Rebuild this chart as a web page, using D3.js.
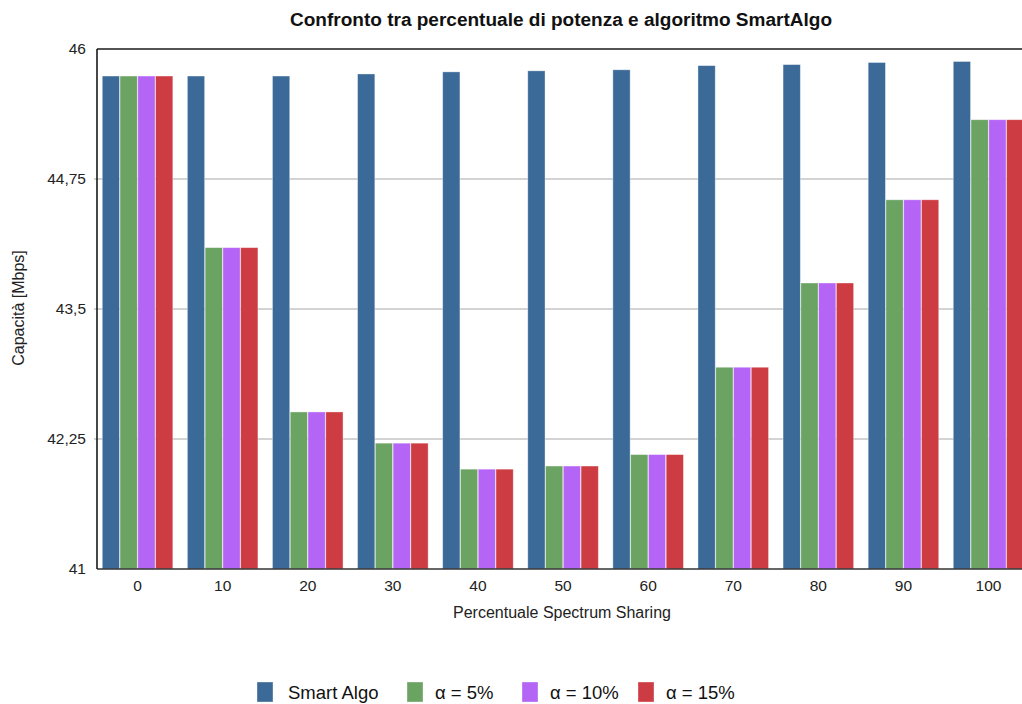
<!DOCTYPE html>
<html>
<head>
<meta charset="utf-8">
<script src="https://cdn.jsdelivr.net/npm/d3@7/dist/d3.min.js"></script>
<style>
  html, body { margin: 0; padding: 0; background: #fff; }
  svg { display: block; font-family: "Liberation Sans", Arial, sans-serif; }
</style>
</head>
<body>
<svg id="chart" width="1022" height="704"></svg>
<script>
const categories = ["0", "10", "20", "30", "40", "50", "60", "70", "80", "90", "100"];
const seriesNames = ["Smart Algo", "α = 5%", "α = 10%", "α = 15%"];
const smartAlgo = [45.74, 45.74, 45.74, 45.76, 45.78, 45.79, 45.80, 45.84, 45.85, 45.87, 45.88];
const alpha5  = [45.74, 44.09, 42.51, 42.21, 41.96, 41.99, 42.10, 42.94, 43.75, 44.55, 45.32];
const alpha10 = [45.74, 44.09, 42.51, 42.21, 41.96, 41.99, 42.10, 42.94, 43.75, 44.55, 45.32];
const alpha15 = [45.74, 44.09, 42.51, 42.21, 41.96, 41.99, 42.10, 42.94, 43.75, 44.55, 45.32];
const yTicks = [41, 42.25, 43.5, 44.75, 46];
const colors = ["#3b6a98", "#6ba363", "#b565f6", "#cd3c42"];

const seriesValues = [smartAlgo, alpha5, alpha10, alpha15];

const svg = d3.select("#chart");
const plotLeft = 97, plotTop = 49, plotBottom = 569, plotRight = 1022;

const y = d3.scaleLinear().domain([41, 46]).range([plotBottom, plotTop]);
const x = d3.scaleBand().domain(categories).range([95, 95 + 11 * 85.1])
  .paddingInner(0.165).paddingOuter(0.0825);
const xs = d3.scaleBand().domain(seriesNames).range([0, x.bandwidth()]);

// gridlines
svg.append("g").selectAll("line").data(yTicks.filter(t => t !== 41 && t !== 46)).join("line")
  .attr("x1", plotLeft - 3).attr("x2", plotRight)
  .attr("y1", d => y(d)).attr("y2", d => y(d))
  .attr("stroke", "#c4c4c4").attr("stroke-width", 1.6);

// bars
const groups = svg.append("g").selectAll("g").data(categories).join("g")
  .attr("transform", d => `translate(${x(d)},0)`);
groups.selectAll("rect").data((c, i) => seriesNames.map((s, k) => ({ s, k, v: seriesValues[k][i] })))
  .join("rect")
  .attr("x", d => xs(d.s) + 0.25)
  .attr("width", xs.bandwidth() - 0.5)
  .attr("y", d => y(d.v))
  .attr("height", d => plotBottom - y(d.v))
  .attr("fill", d => colors[d.k])
  .attr("stroke", "rgba(255,255,255,0.45)")
  .attr("stroke-width", 0.8);

// frame lines
svg.append("line").attr("x1", plotLeft).attr("x2", plotRight).attr("y1", plotTop).attr("y2", plotTop)
  .attr("stroke", "#1a1a1a").attr("stroke-width", 1.6);
svg.append("line").attr("x1", plotLeft).attr("x2", plotRight).attr("y1", plotBottom).attr("y2", plotBottom)
  .attr("stroke", "#333").attr("stroke-width", 1.4);
svg.append("line").attr("x1", plotLeft).attr("x2", plotLeft).attr("y1", plotTop).attr("y2", plotBottom)
  .attr("stroke", "#1a1a1a").attr("stroke-width", 1.6);

// y tick labels
const fmt = d => String(d).replace(".", ",");
svg.append("g").selectAll("text").data(yTicks).join("text")
  .attr("x", 86).attr("y", d => y(d) + 5)
  .attr("text-anchor", "end").attr("font-size", 15.5).attr("fill", "#222")
  .text(fmt);

// x tick labels
svg.append("g").selectAll("text").data(categories).join("text")
  .attr("x", d => x(d) + x.bandwidth() / 2).attr("y", 591)
  .attr("text-anchor", "middle").attr("font-size", 15.5).attr("fill", "#222")
  .text(d => d);

// titles
svg.append("text").attr("x", 561).attr("y", 26).attr("text-anchor", "middle")
  .attr("font-size", 18).attr("font-weight", "bold").attr("fill", "#111")
  .attr("textLength", 542).attr("lengthAdjust", "spacingAndGlyphs")
  .text("Confronto tra percentuale di potenza e algoritmo SmartAlgo");
svg.append("text").attr("x", 562).attr("y", 618).attr("text-anchor", "middle")
  .attr("font-size", 16).attr("fill", "#222").text("Percentuale Spectrum Sharing");
svg.append("text").attr("transform", "translate(24,308) rotate(-90)").attr("text-anchor", "middle")
  .attr("font-size", 16).attr("fill", "#222").text("Capacità [Mbps]");

// legend (layout positions)
const legendX = [257, 407, 522, 638];
const leg = svg.append("g");
seriesNames.forEach((name, k) => {
  const lx = legendX[k];
  leg.append("rect").attr("x", lx).attr("y", 682).attr("width", 16).attr("height", 20)
    .attr("fill", colors[k]).attr("stroke", "rgba(255,255,255,0.45)").attr("stroke-width", 0.8);
  leg.append("text").attr("x", lx + (k === 0 ? 31 : 28)).attr("y", 699)
    .attr("font-size", 18.5).attr("fill", "#111").text(name);
});
</script>
</body>
</html>
